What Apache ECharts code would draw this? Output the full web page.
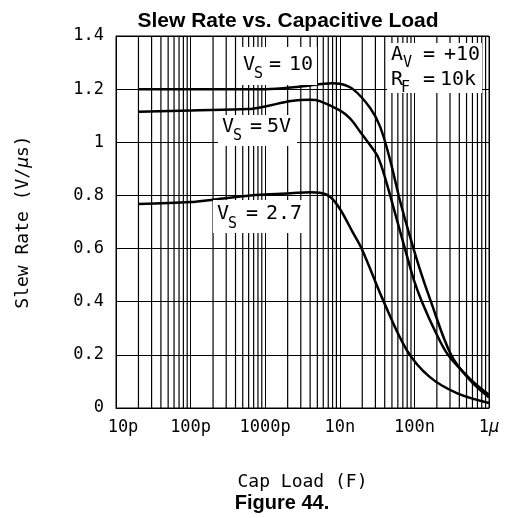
<!DOCTYPE html>
<html><head><meta charset="utf-8">
<script src="https://cdn.jsdelivr.net/npm/echarts@6/dist/echarts.min.js"></script>
<style>html,body{margin:0;padding:0;background:#fff}#c{width:505px;height:518px}</style>
</head><body><div id="c"></div>
<script>
// ---- data ----
const xTickLabels = ['10p', '100p', '1000p', '10n', '100n', '1µ'];
const yMin = 0, yMax = 1.4, yStep = 0.2;

const capVs10 = [20e-12, 100e-12, 1e-9, 3e-9, 8e-9, 1e-8, 1.5e-8, 2.54e-8, 3.46e-8, 4.71e-8, 6.41e-8, 8.73e-8, 1.19e-7, 1.62e-7, 3.1e-7, 5.56e-7, 1e-6];
const srVs10  = [1.20, 1.20, 1.20, 1.21, 1.222, 1.22, 1.20, 1.13, 1.06, 0.935, 0.78, 0.645, 0.52, 0.41, 0.20, 0.105, 0.04];

const capVs5 = [20e-12, 100e-12, 6e-10, 1e-9, 2.2e-9, 4e-9, 5.4e-9, 1e-8, 1.37e-8, 1.87e-8, 2.54e-8, 3.25e-8, 4.16e-8, 5.67e-8, 7.72e-8, 9.88e-8, 1.26e-7, 1.89e-7, 2.82e-7, 5.56e-7, 1e-6];
const srVs5  = [1.115, 1.12, 1.125, 1.135, 1.155, 1.16, 1.155, 1.12, 1.09, 1.04, 0.99, 0.945, 0.855, 0.72, 0.585, 0.48, 0.40, 0.29, 0.20, 0.11, 0.05];

const capVs27 = [20e-12, 100e-12, 2.1e-10, 6.3e-10, 2.2e-9, 4e-9, 5.4e-9, 7.4e-9, 1e-8, 1.5e-8, 2e-8, 3.8e-8, 7.9e-8, 1.6e-7, 3.7e-7, 1e-6];
const srVs27  = [0.768, 0.775, 0.785, 0.80, 0.808, 0.812, 0.81, 0.795, 0.75, 0.66, 0.595, 0.406, 0.218, 0.117, 0.056, 0.019];

const titleText = 'Slew Rate vs. Capacitive Load';
const captionText = 'Figure 44.';
const xName = 'Cap Load (F)';

// ---- chart ----
const MONO = '"DejaVu Sans Mono", monospace';
const SANS = '"Liberation Sans", Arial, sans-serif';
const pair = (xs, ys) => xs.map((x, i) => [x, ys[i]]);

// minor log grid lines (2..9 in every decade), drawn as one broken line series
const minorGridData = [];
for (let e = -11; e <= -7; e++) for (let k = 2; k <= 9; k++) {
  const v = k * Math.pow(10, e);
  minorGridData.push([v, yMin], [v, yMax], [v, null]);
}

function piece(x, y, s, size) {
  return { type: 'text', x: x, y: y, z: 101,
    style: { text: s, fontFamily: MONO, fontSize: size, fill: '#000',
             textAlign: 'left', align: 'left', textVerticalAlign: 'middle', verticalAlign: 'middle' } };
}
function box(x, y, w, h) {
  return { type: 'rect', z: 100, shape: { x: x, y: y, width: w, height: h }, style: { fill: '#fff' } };
}
const B = 20, S = 15;
const graphics = [
  box(238, 47, 79, 38),
  piece(243, 64.5, 'V', B), piece(254, 74, 'S', S), piece(269, 64.5, '=', B), piece(289, 64.5, '10', B),
  box(218, 115, 79, 31),
  piece(222, 126.5, 'V', B), piece(233, 136.5, 'S', S), piece(250, 126.5, '=', B), piece(267, 126.5, '5V', B),
  box(213, 200, 89, 33),
  piece(217, 213.5, 'V', B), piece(228, 224, 'S', S), piece(246, 213.5, '=', B), piece(266, 213.5, '2.7', B),
  box(387, 43, 95, 50),
  piece(391, 54.5, 'A', B), piece(403, 63, 'V', S), piece(423, 54.5, '=', B), piece(444, 54.5, '+10', B),
  piece(391, 79.5, 'R', B), piece(401, 88.5, 'F', S), piece(423, 79.5, '=', B), piece(440, 79.5, '10k', B),
  { type: 'text', x: 282, y: 503, z: 101,
    style: { text: captionText, fontFamily: SANS, fontWeight: 'bold', fontSize: 20, fill: '#000',
             textAlign: 'center', align: 'center', textVerticalAlign: 'middle', verticalAlign: 'middle' } }
];

const curveStyle = { color: '#000', width: 2.5 };
const curve = (name, xs, ys) => ({ type: 'line', name: name, data: pair(xs, ys), smooth: 0.35,
  showSymbol: false, symbol: 'none', lineStyle: curveStyle, z: 5 });

const chart = echarts.init(document.getElementById('c'), null, { renderer: 'canvas' });
chart.setOption({
  animation: false,
  backgroundColor: '#fff',
  title: { text: titleText, left: 283, top: 6, textAlign: 'center',
           textStyle: { fontFamily: SANS, fontWeight: 'bold', fontSize: 21, color: '#000' } },
  grid: { left: 116, right: 16, top: 36, bottom: 110, show: true, borderColor: '#000', borderWidth: 1, backgroundColor: 'transparent' },
  xAxis: {
    type: 'log', logBase: 10, min: 1e-11, max: 1e-6, splitNumber: 5,
    name: xName, nameLocation: 'middle', nameGap: 65,
    nameTextStyle: { fontFamily: MONO, fontSize: 18, color: '#000' },
    axisLine: { show: true, lineStyle: { color: '#000', width: 1 } },
    axisTick: { show: false },
    splitLine: { show: true, lineStyle: { color: '#000', width: 1 } },
    axisLabel: {
      margin: 11, color: '#000', fontFamily: MONO, fontSize: 17,
      formatter: function (v) {
        const i = Math.round(Math.log10(v)) + 11;
        const s = xTickLabels[i] || '';
        if (i === 0) return '{first|' + s + '}';
        if (s.slice(-1) === 'µ') return s.slice(0, -1) + '{mu|µ}';
        return s;
      },
      rich: {
        first: { padding: [0, 0, 0, 14], fontFamily: MONO, fontSize: 17, color: '#000' },
        mu: { fontStyle: 'italic', fontFamily: MONO, fontSize: 17, color: '#000' }
      }
    }
  },
  yAxis: {
    type: 'value', min: yMin, max: yMax, interval: yStep,
    name: 'Slew Rate (V/{mu|µ}s)', nameLocation: 'middle', nameGap: 84, nameRotate: 90,
    nameTextStyle: { fontFamily: MONO, fontSize: 18, color: '#000',
                     rich: { mu: { fontStyle: 'italic', fontFamily: MONO, fontSize: 18, color: '#000' } } },
    axisLine: { show: true, lineStyle: { color: '#000', width: 1 } },
    axisTick: { show: false },
    splitLine: { show: true, lineStyle: { color: '#000', width: 1 } },
    axisLabel: { margin: 12, color: '#000', fontFamily: MONO, fontSize: 17 }
  },
  series: [
    { type: 'line', name: 'minor grid', data: minorGridData, z: 1, silent: true, connectNulls: false,
      symbol: 'none', showSymbol: false, lineStyle: { color: '#000', width: 1.2 }, tooltip: { show: false } },
    curve('VS = 10', capVs10, srVs10),
    curve('VS = 5V', capVs5, srVs5),
    curve('VS = 2.7', capVs27, srVs27)
  ],
  graphic: graphics
});
</script>
</body></html>
